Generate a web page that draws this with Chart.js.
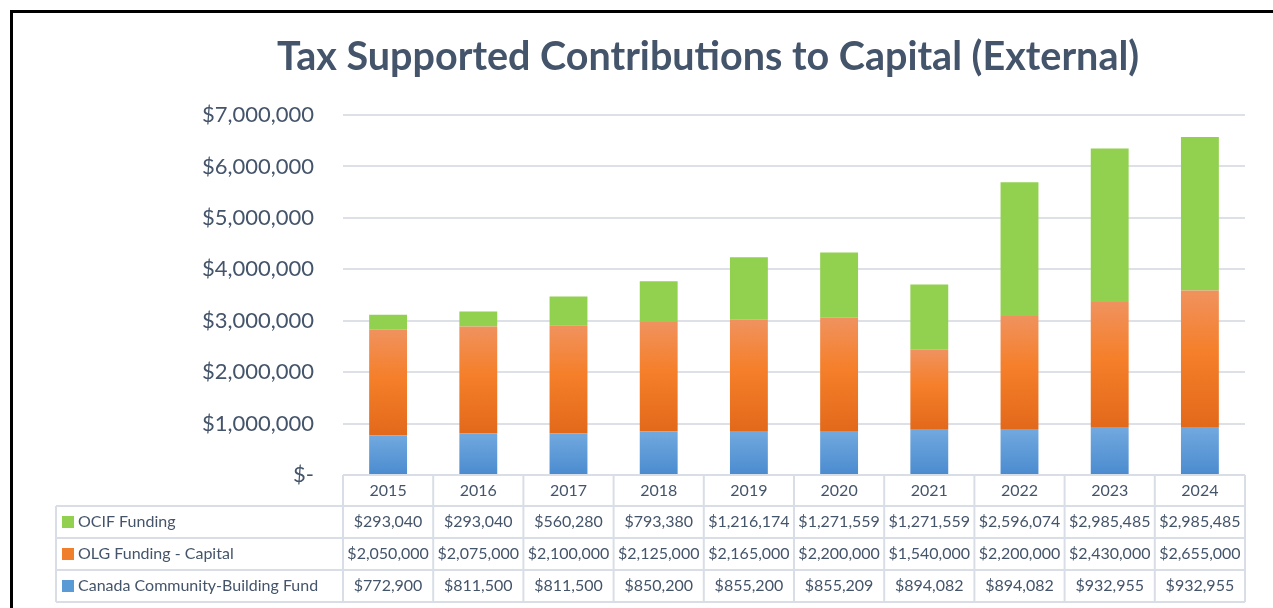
<!DOCTYPE html>
<html><head><meta charset="utf-8">
<script src="https://cdn.jsdelivr.net/npm/chart.js@4.4.1/dist/chart.umd.min.js"></script>
<style>
html,body{margin:0;padding:0;background:#fff;overflow:hidden}
#wrap{position:relative;width:1273px;height:608px}
#frame{position:absolute;left:10px;top:10px;width:1400px;height:700px;border-left:3px solid #000;border-top:3px solid #000;pointer-events:none}
canvas{position:absolute;left:0;top:0}
</style></head><body>
<div id="wrap"><canvas id="c" width="1273" height="608"></canvas><div id="frame"></div></div>
<script>
const years = ['2015','2016','2017','2018','2019','2020','2021','2022','2023','2024'];
const ocifFunding = [293040,293040,560280,793380,1216174,1271559,1271559,2596074,2985485,2985485];
const olgFunding = [2050000,2075000,2100000,2125000,2165000,2200000,1540000,2200000,2430000,2655000];
const ccbfFunding = [772900,811500,811500,850200,855200,855209,894082,894082,932955,932955];
const seriesNames = ['OCIF Funding','OLG Funding - Capital','Canada Community-Building Fund'];
const yTickValues = [0,1000000,2000000,3000000,4000000,5000000,6000000,7000000];

const FONT = 'Lato';
const TXT = '#44546A';
const GRID = '#DDE1E7';

const zeros = years.map(() => 0);

function gradFill(context, values, below, stops, fallback) {
  const chart = context.chart;
  if (!chart.chartArea) return fallback;
  const y = chart.scales.y;
  const i = context.dataIndex;
  if (i === undefined || i === null) return fallback;
  const top = y.getPixelForValue(below[i] + values[i]);
  const bot = y.getPixelForValue(below[i]);
  if (!isFinite(top) || !isFinite(bot) || top === bot) return fallback;
  const g = chart.ctx.createLinearGradient(0, top, 0, bot);
  stops.forEach(s => g.addColorStop(s[0], s[1]));
  return g;
}

const fmt = v => '$' + Math.round(v).toLocaleString('en-US');

const tablePlugin = {
  id: 'dataTable',
  afterDraw(chart) {
    const { ctx, chartArea: ca, scales } = chart;
    const x = scales.x;
    const n = years.length;
    const cw = ca.width / n;
    const top = ca.bottom;
    const hdrH = 31, rowH = 32;
    const labelLeft = 56;
    const rows = [
      { name: seriesNames[0], vals: ocifFunding, color: '#92D050' },
      { name: seriesNames[1], vals: olgFunding, color: '#F07F2B' },
      { name: seriesNames[2], vals: ccbfFunding, color: '#5B9BD5' }
    ];
    const tableBottom = top + hdrH + rowH * rows.length;
    ctx.save();
    ctx.strokeStyle = '#D9DEE6';
    ctx.lineWidth = 2;
    ctx.beginPath();
    ctx.moveTo(ca.left, top); ctx.lineTo(ca.right, top);
    for (let r = 0; r <= rows.length; r++) {
      const yy = top + hdrH + r * rowH;
      ctx.moveTo(labelLeft, yy); ctx.lineTo(ca.right, yy);
    }
    ctx.moveTo(labelLeft, top + hdrH); ctx.lineTo(labelLeft, tableBottom);
    for (let k = 0; k <= n; k++) {
      const xx = ca.left + k * cw;
      ctx.moveTo(xx, top); ctx.lineTo(xx, tableBottom);
    }
    ctx.stroke();

    ctx.fillStyle = TXT;
    ctx.textBaseline = 'middle';
    ctx.textAlign = 'center';
    ctx.font = '16px ' + FONT;
    years.forEach((yr, i) => {
      ctx.fillText(yr, x.getPixelForValue(i), top + hdrH / 2);
    });
    rows.forEach((row, r) => {
      const cy = top + hdrH + r * rowH + rowH / 2;
      ctx.textAlign = 'center';
      ctx.fillStyle = TXT;
      row.vals.forEach((v, i) => {
        ctx.fillText(fmt(v), x.getPixelForValue(i), cy);
      });
      ctx.fillStyle = row.color;
      ctx.fillRect(labelLeft + 6, cy - 6, 12, 12);
      ctx.fillStyle = TXT;
      ctx.textAlign = 'left';
      ctx.fillText(row.name, labelLeft + 22, cy);
    });
    ctx.restore();
  }
};

new Chart(document.getElementById('c'), {
  type: 'bar',
  data: {
    labels: years,
    datasets: [
      {
        label: seriesNames[2], data: ccbfFunding,
        backgroundColor: ctx => gradFill(ctx, ccbfFunding, zeros, [[0, '#72A9DF'], [1, '#4A8BCF']], '#5B9BD5')
      },
      {
        label: seriesNames[1], data: olgFunding,
        backgroundColor: ctx => gradFill(ctx, olgFunding, ccbfFunding, [[0, '#F0925E'], [0.45, '#F57F2A'], [1, '#E2691A']], '#ED7D31')
      },
      {
        label: seriesNames[0], data: ocifFunding,
        backgroundColor: '#92D050'
      }
    ]
  },
  options: {
    responsive: false,
    animation: false,
    devicePixelRatio: 1,
    layout: { padding: { left: 171, right: 28, top: 13, bottom: 133 } },
    datasets: { bar: { barPercentage: 0.42, categoryPercentage: 1.0 } },
    plugins: {
      legend: { display: false },
      tooltip: { enabled: false },
      title: {
        display: true,
        text: 'Tax Supported Contributions to Capital (External)',
        color: TXT,
        font: { family: FONT, size: 39.5, weight: 'bold', lineHeight: 1.2 },
        padding: { top: 21, bottom: 33.6 }
      }
    },
    scales: {
      x: {
        stacked: true,
        display: false,
        offset: true
      },
      y: {
        stacked: true,
        min: 0, max: 7000000,
        afterFit: s => { s.width = 172; },
        afterBuildTicks: s => { s.ticks = yTickValues.map(v => ({ value: v })); },
        border: { display: false },
        grid: { color: GRID, lineWidth: 2, drawTicks: false },
        ticks: {
          padding: 29,
          color: TXT,
          font: { family: FONT, size: 22 },
          callback: v => v === 0 ? '$-' : fmt(v)
        }
      }
    }
  },
  plugins: [tablePlugin]
});
</script>
</body></html>
